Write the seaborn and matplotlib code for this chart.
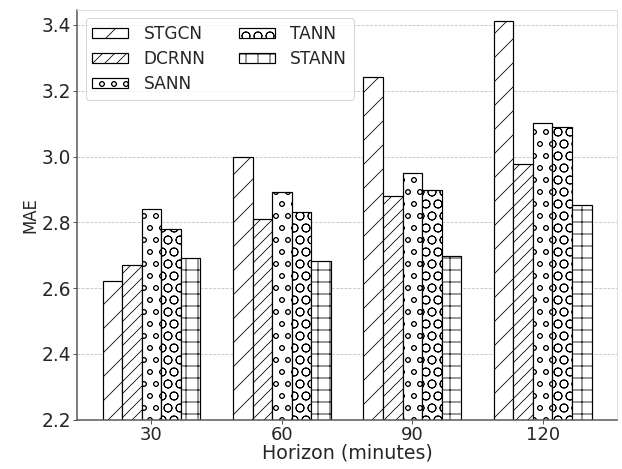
import pandas as pd
import matplotlib
matplotlib.use("Agg")
import matplotlib.pyplot as plt
import seaborn as sns

horizons = ["30", "60", "90", "120"]
models = ["STGCN", "DCRNN", "SANN", "TANN", "STANN"]
stgcn = [2.623, 3.000, 3.241, 3.412]
dcrnn = [2.671, 2.810, 2.881, 2.977]
sann = [2.840, 2.891, 2.950, 3.102]
tann = [2.780, 2.831, 2.899, 3.091]
stann = [2.691, 2.683, 2.698, 2.853]
hatches = ["/", "//", "o", "O", "+"]

sns.set_theme(style="whitegrid")
plt.rcParams["font.family"] = ["DejaVu Sans"]
plt.rcParams["hatch.linewidth"] = 0.8
plt.rcParams["hatch.color"] = "black"

rows = []
for m, vals in zip(models, [stgcn, dcrnn, sann, tann, stann]):
    for h, v in zip(horizons, vals):
        rows.append({"Horizon": h, "Model": m, "MAE": v})
df = pd.DataFrame(rows)

fig, ax = plt.subplots(figsize=(622 / 72, 469 / 72), dpi=72)
sns.barplot(data=df, x="Horizon", y="MAE", hue="Model", order=horizons,
            hue_order=models, palette=["white"] * 5, width=0.75, gap=0,
            edgecolor="black", linewidth=1.2, ax=ax)

for cont, hatch in zip(ax.containers, hatches):
    for bar in cont:
        bar.set_hatch(hatch)
        bar.set_facecolor("white")
        bar.set_edgecolor("black")

ax.set_ylim(2.2, 3.446)
ax.set_xlim(-0.57, 3.57)
ax.set_yticks([2.2, 2.4, 2.6, 2.8, 3.0, 3.2, 3.4])
ax.set_yticklabels(["2.2", "2.4", "2.6", "2.8", "3.0", "3.2", "3.4"])
ax.grid(axis="y", linestyle="--", color="#c0c0c0", linewidth=0.8)
ax.grid(axis="x", visible=False)
ax.set_axisbelow(True)
ax.set_xlabel("Horizon (minutes)", fontsize=19, labelpad=0)
ax.set_ylabel("MAE", fontsize=16.5, labelpad=2)
ax.tick_params(axis="y", labelsize=18.5)
ax.tick_params(axis="x", labelsize=18)
ax.tick_params(axis="both", length=4, width=1, color="#555555",
               left=True, bottom=True, pad=2)
for side in ["left", "bottom"]:
    ax.spines[side].set_color("#555555")
    ax.spines[side].set_linewidth(1.5)
for side in ["top", "right"]:
    ax.spines[side].set_color("#dddddd")
    ax.spines[side].set_linewidth(1.0)

ax.legend(ax.containers, models, loc="upper left", ncol=2, fontsize=17,
          frameon=True, handlelength=2.1, handleheight=0.5, handletextpad=0.9,
          columnspacing=2.0, labelspacing=0.4, borderaxespad=0.5,
          edgecolor="#cccccc")

fig.subplots_adjust(left=0.124, right=0.992, top=0.979, bottom=0.105)
fig.savefig("out.png", dpi=72)
